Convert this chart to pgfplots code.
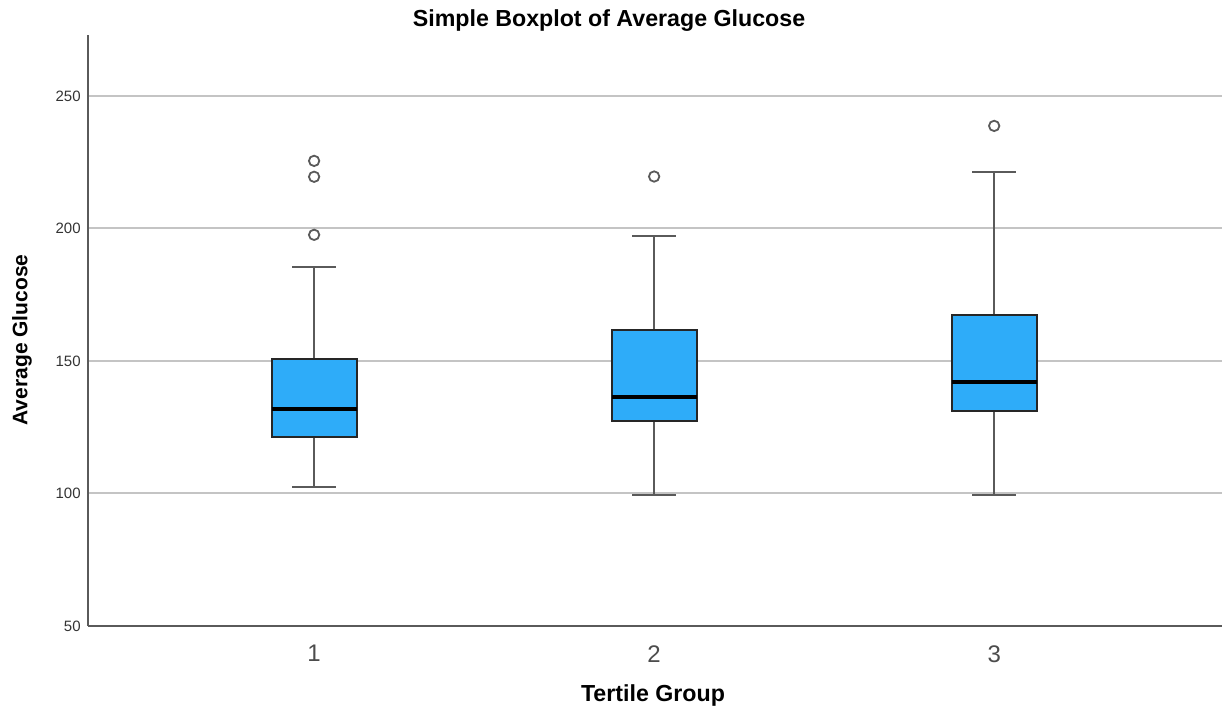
\documentclass[border=0pt]{standalone}
\usepackage{pgfplots}
\pgfplotsset{compat=1.18}
\usepgfplotslibrary{statistics}
\usepackage{fontspec}
\setmainfont{Liberation Sans}
\definecolor{boxblue}{HTML}{2EACF9}
\definecolor{gridgray}{HTML}{C4C4C4}
\definecolor{axisgray}{HTML}{5A5A5A}
\definecolor{whiskgray}{HTML}{5A5A5A}
\begin{document}
\begin{tikzpicture}
\begin{axis}[
  scale only axis,
  width=567pt, height=295.5pt,
  xmin=3.35, xmax=36.7,
  ymin=50, ymax=273,
  axis x line=bottom, axis y line=left,
  axis line style={draw=axisgray, line width=1.3pt, -},
  xtick={10,20,30}, xticklabels={1,2,3},
  ytick={50,100,150,200,250},
  tick style={draw=none},
  ymajorgrids, grid style={gridgray, line width=1pt},
  x tick label style={font=\fontsize{12}{14}\selectfont, text=black!70, yshift=-4pt},
  y tick label style={font=\fontsize{7.5}{9}\selectfont, text=black!80, xshift=2pt},
  /pgf/number format/assume math mode=true,
  boxplot/draw direction=y,
  boxplot/every box/.style={draw=black!85, fill=boxblue, line width=1pt},
  boxplot/every whisker/.style={draw=whiskgray, line width=1pt},
  boxplot/every median/.style={draw=black, line width=2pt},
]
\addplot+[boxplot prepared={draw direction=y, lower whisker=102.4, lower quartile=121.3, median=132.0,
  upper quartile=150.8, upper whisker=185.6, draw position=10, box extend=2.5, whisker extend=1.3},
  mark=o, mark size=2.6pt, mark options={draw=whiskgray, fill=white, line width=0.9pt}, draw=whiskgray]
  table[row sep=\\, y index=0] {v\\ 225.5\\ 219.5\\ 197.6\\};
\addplot+[boxplot prepared={draw direction=y, lower whisker=99.3, lower quartile=127.3, median=136.3,
  upper quartile=161.8, upper whisker=197.2, draw position=20, box extend=2.5, whisker extend=1.3},
  mark=o, mark size=2.6pt, mark options={draw=whiskgray, fill=white, line width=0.9pt}, draw=whiskgray]
  table[row sep=\\, y index=0] {v\\ 219.6\\};
\addplot+[boxplot prepared={draw direction=y, lower whisker=99.3, lower quartile=131.0, median=142.0,
  upper quartile=167.4, upper whisker=221.4, draw position=30, box extend=2.5, whisker extend=1.3},
  mark=o, mark size=2.6pt, mark options={draw=whiskgray, fill=white, line width=0.9pt}, draw=whiskgray]
  table[row sep=\\, y index=0] {v\\ 238.7\\};
\end{axis}
\node[font=\bfseries\fontsize{11.6}{13}\selectfont] at (260.5pt,302.5pt) {Simple Boxplot of Average Glucose};
\node[font=\bfseries\fontsize{10.5}{12}\selectfont, rotate=90] at (-33pt,143pt) {Average Glucose};
\node[font=\bfseries\fontsize{11.6}{13}\selectfont] at (282.5pt,-34.5pt) {Tertile Group};
\pgfresetboundingbox
\path[use as bounding box] (-44pt,-43.5pt) rectangle (567pt,313pt);
\end{tikzpicture}
\end{document}
